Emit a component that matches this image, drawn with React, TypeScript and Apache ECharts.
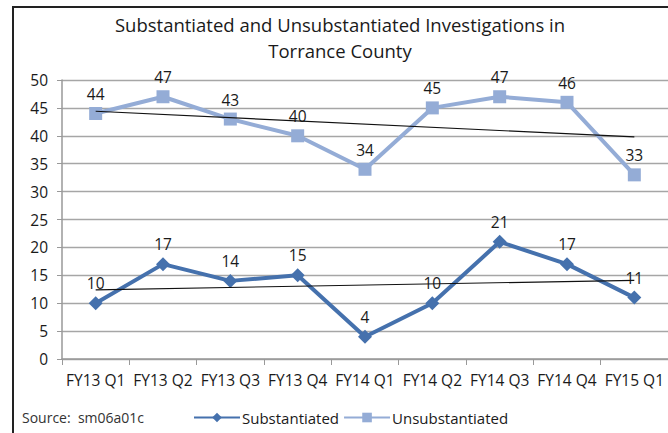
import React, { useEffect, useRef } from "react";
import * as echarts from "echarts";

const categories = ["FY13 Q1", "FY13 Q2", "FY13 Q3", "FY13 Q4", "FY14 Q1", "FY14 Q2", "FY14 Q3", "FY14 Q4", "FY15 Q1"];
const substantiated = [10, 17, 14, 15, 4, 10, 21, 17, 11];
const unsubstantiated = [44, 47, 43, 40, 34, 45, 47, 46, 33];
// trend line endpoints (first and last category)
const substantiatedTrend = [12.4, 14.1];
const unsubstantiatedTrend = [44.4, 39.8];

const FONT = "'Open Sans', Lato, sans-serif";

function endpoints(pair: number[]) {
  return categories.map((_, i) => (i === 0 ? pair[0] : i === categories.length - 1 ? pair[1] : null));
}

export default function App() {
  const ref = useRef<HTMLDivElement>(null);
  useEffect(() => {
    document.body.style.margin = "0";
    const chart = echarts.init(ref.current!, null, { renderer: "svg" });
    const labelStyle = {
      show: true,
      position: "top" as const,
      distance: 5,
      color: "#1a1a1a",
      fontSize: 15.5,
      fontFamily: FONT,
    };
    chart.setOption({
      animation: false,
      backgroundColor: "#ffffff",
      title: {
        text: "Substantiated and Unsubstantiated Investigations in\nTorrance County",
        left: 335,
        textAlign: "center",
        top: 6,
        textStyle: { fontFamily: FONT, fontSize: 18.5, fontWeight: "normal", color: "#1a1a1a", lineHeight: 26 },
      },
      grid: { left: 62, top: 80, width: 608, height: 279 },
      legend: {
        data: ["Substantiated", "Unsubstantiated"],
        left: 188,
        top: 408,
        padding: [2, 5, 2, 5],
        itemWidth: 46,
        itemHeight: 12,
        itemGap: 4,
        textStyle: { fontFamily: FONT, fontSize: 15, color: "#1a1a1a", padding: [0, 0, 0, -3] },
      },
      graphic: [
        {
          type: "rect",
          shape: { x: 13, y: 7, width: 720, height: 480 },
          style: { fill: "none", stroke: "#222", lineWidth: 2 },
          silent: true,
        },
        {
          type: "text",
          x: 22,
          y: 410,
          style: { text: "Source:  sm06a01c", fontFamily: FONT, fontSize: 14, fill: "#333" },
        },
      ],
      xAxis: {
        type: "category",
        data: categories,
        boundaryGap: true,
        axisLine: { lineStyle: { color: "#999", width: 1.5 } },
        axisTick: { show: true, length: 6, interval: 0, lineStyle: { color: "#999" } },
        axisLabel: { fontFamily: FONT, fontSize: 15.5, color: "#1a1a1a", margin: 13, interval: 0 },
      },
      yAxis: {
        type: "value",
        min: 0,
        max: 50,
        interval: 5,
        axisLine: { show: true, lineStyle: { color: "#999", width: 1.5 } },
        axisTick: { show: true, length: 5, lineStyle: { color: "#999" } },
        axisLabel: { fontFamily: FONT, fontSize: 15.5, color: "#1a1a1a", margin: 14 },
        splitLine: { lineStyle: { color: "#a6a6a6", width: 1.3 } },
      },
      series: [
        {
          name: "Substantiated",
          type: "line",
          data: substantiated,
          symbol: "diamond",
          symbolSize: 14,
          lineStyle: { color: "#4571ad", width: 4 },
          itemStyle: { color: "#4571ad" },
          label: labelStyle,
          z: 3,
        },
        {
          name: "Unsubstantiated",
          type: "line",
          data: unsubstantiated,
          symbol: "rect",
          symbolSize: 13,
          lineStyle: { color: "#94acd6", width: 4 },
          itemStyle: { color: "#94acd6" },
          label: labelStyle,
          z: 3,
        },
        {
          name: "trendS",
          type: "line",
          data: endpoints(substantiatedTrend),
          connectNulls: true,
          symbol: "none",
          silent: true,
          lineStyle: { color: "#111", width: 1.2 },
          z: 4,
        },
        {
          name: "trendU",
          type: "line",
          data: endpoints(unsubstantiatedTrend),
          connectNulls: true,
          symbol: "none",
          silent: true,
          lineStyle: { color: "#111", width: 1.2 },
          z: 4,
        },
      ],
    });
    return () => chart.dispose();
  }, []);
  return <div ref={ref} style={{ width: 668, height: 433 }} />;
}
